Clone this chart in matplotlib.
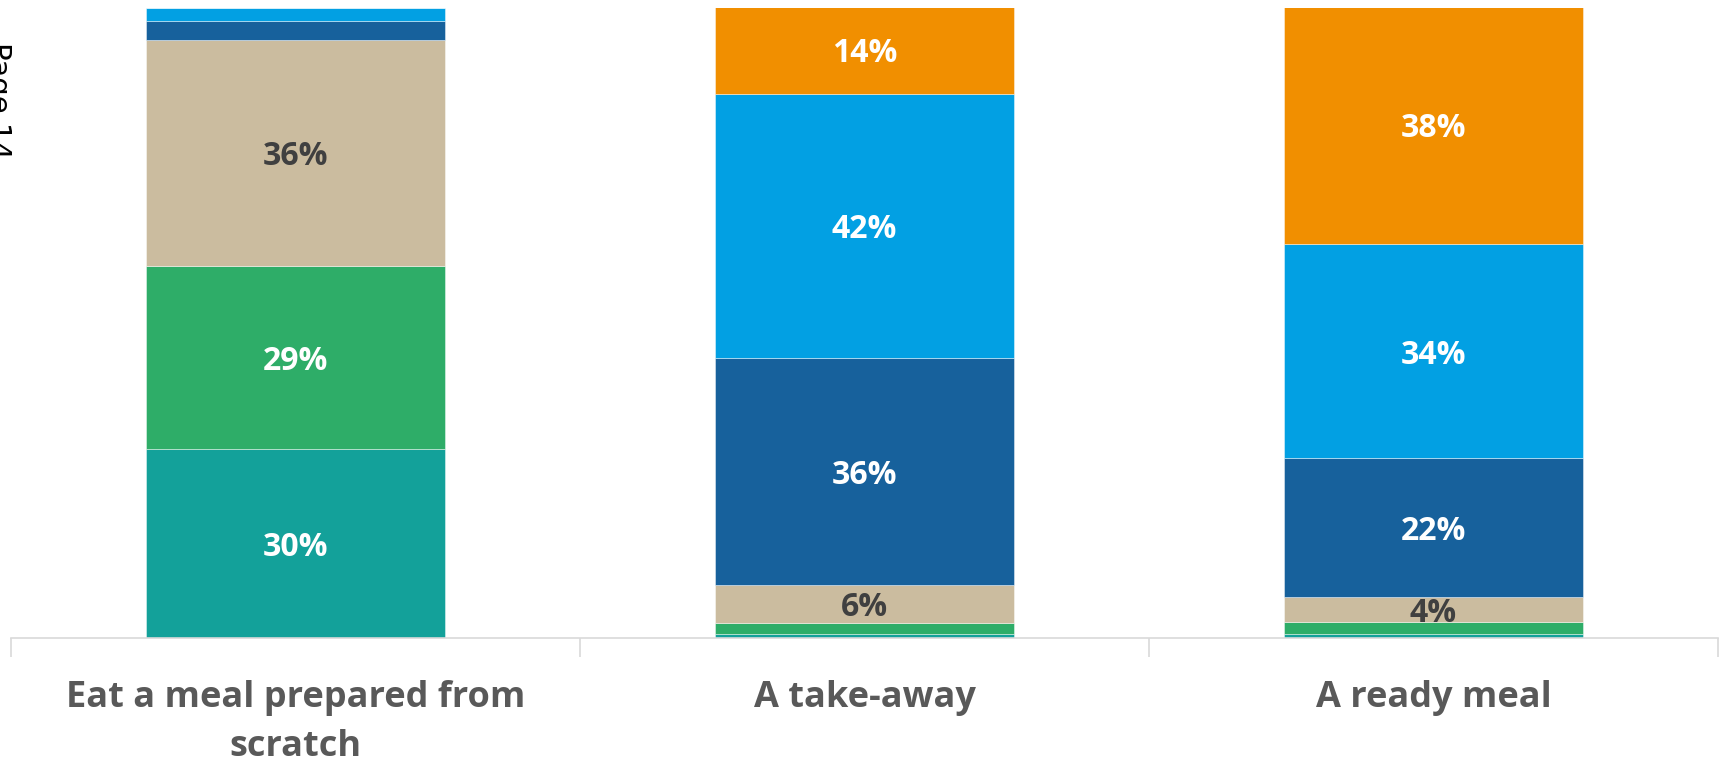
import matplotlib
matplotlib.use('Agg')
import matplotlib.pyplot as plt
import numpy as np

categories = ['Eat a meal prepared from\nscratch', 'A take-away', 'A ready meal']

# stacked shares (%), bottom to top
level_1 = [30, 0.7, 0.7]
level_2 = [29, 1.7, 1.8]
level_3 = [36, 6, 4]
level_4 = [3, 36, 22]
level_5 = [2, 42, 34]
level_6 = [0, 14, 38]

levels = [level_1, level_2, level_3, level_4, level_5, level_6]
colors = ['#13A19A', '#2EAD68', '#CBBC9F', '#17619C', '#02A0E3', '#F18F00']
label_colors = ['white', 'white', '#404040', 'white', 'white', 'white']

plt.rcParams['font.family'] = ['Open Sans', 'DejaVu Sans']

fig = plt.figure(figsize=(17.25, 7.64), dpi=100)
ax = fig.add_axes([11 / 1725, 126 / 764, 1707 / 1725, 630 / 764])

x = np.arange(len(categories))
bottom = np.zeros(len(categories))
for vals, col, lcol in zip(levels, colors, label_colors):
    vals = np.array(vals, dtype=float)
    ax.bar(x, vals, bottom=bottom, width=0.524, color=col,
           edgecolor=(1, 1, 1, 0.5), linewidth=0.6)
    for xi, v, b in zip(x, vals, bottom):
        if v >= 4:
            ax.text(xi, b + v / 2, f'{v:.0f}%', ha='center', va='center_baseline',
                    fontsize=23, fontweight='bold', color=lcol)
    bottom += vals

ax.set_xlim(-0.5, 2.5)
ax.set_ylim(0, 100)
ax.set_yticks([])
for side in ['top', 'right', 'left']:
    ax.spines[side].set_visible(False)
ax.spines['bottom'].set_color('#d9d9d9')
ax.spines['bottom'].set_linewidth(1.2)

ax.set_xticks(x)
ax.set_xticklabels(categories, fontsize=26, fontweight='bold', color='#595959',
                   linespacing=1.5)
ax.tick_params(axis='x', length=0, pad=30)
ax.set_xticks([-0.5, 0.5, 1.5, 2.5], minor=True)
ax.tick_params(axis='x', which='minor', length=14, width=1.2, color='#d9d9d9')

fig.text(12 / 1725, 1 - 42 / 764, 'Page 14', rotation=270, rotation_mode='anchor',
         ha='left', va='top', fontsize=21, color='black', family='DejaVu Sans')

fig.savefig('out.png', dpi=100)
